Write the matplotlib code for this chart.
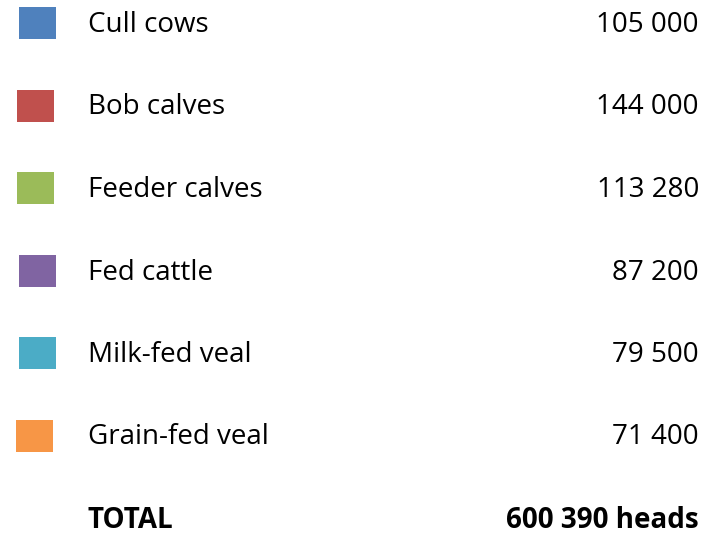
import matplotlib
matplotlib.use('Agg')
import matplotlib.pyplot as plt
from matplotlib.patches import Rectangle

# data
categories = ['Cull cows', 'Bob calves', 'Feeder calves', 'Fed cattle',
              'Milk-fed veal', 'Grain-fed veal']
heads = [105000, 144000, 113280, 87200, 79500, 71400]
colors = ['#4F81BD', '#C0504D', '#9BBB59', '#8064A2', '#4BACC6', '#F79646']
total_label = 'TOTAL'
total_heads = 600390  # as printed in the source


def fmt(v):
    return '{:,}'.format(v).replace(',', ' ')


plt.rcParams['font.family'] = ['Open Sans', 'DejaVu Sans']

fig = plt.figure(figsize=(7.1, 5.36), dpi=100)
ax = fig.add_axes([0, 0, 1, 1])
ax.set_xlim(0, 710)
ax.set_ylim(536, 0)
ax.axis('off')

row_y0 = 23
row_step = 82.5
sq_x = [19, 17, 17, 19, 19, 16]
fs = 20

for i, (cat, val, col) in enumerate(zip(categories, heads, colors)):
    y = row_y0 + i * row_step
    ax.add_patch(Rectangle((sq_x[i], y - 16), 37, 32, color=col, lw=0))
    ax.text(88, y + 2, cat, fontsize=fs, va='center', ha='left')
    ax.text(699, y + 2, fmt(val), fontsize=fs, va='center', ha='right')

y = row_y0 + len(categories) * row_step
ax.text(88, y + 2, total_label, fontsize=fs, va='center', ha='left', fontweight='bold')
ax.text(699, y + 2, fmt(total_heads) + ' heads', fontsize=fs, va='center',
        ha='right', fontweight='bold')

fig.savefig('out.png', dpi=100)
